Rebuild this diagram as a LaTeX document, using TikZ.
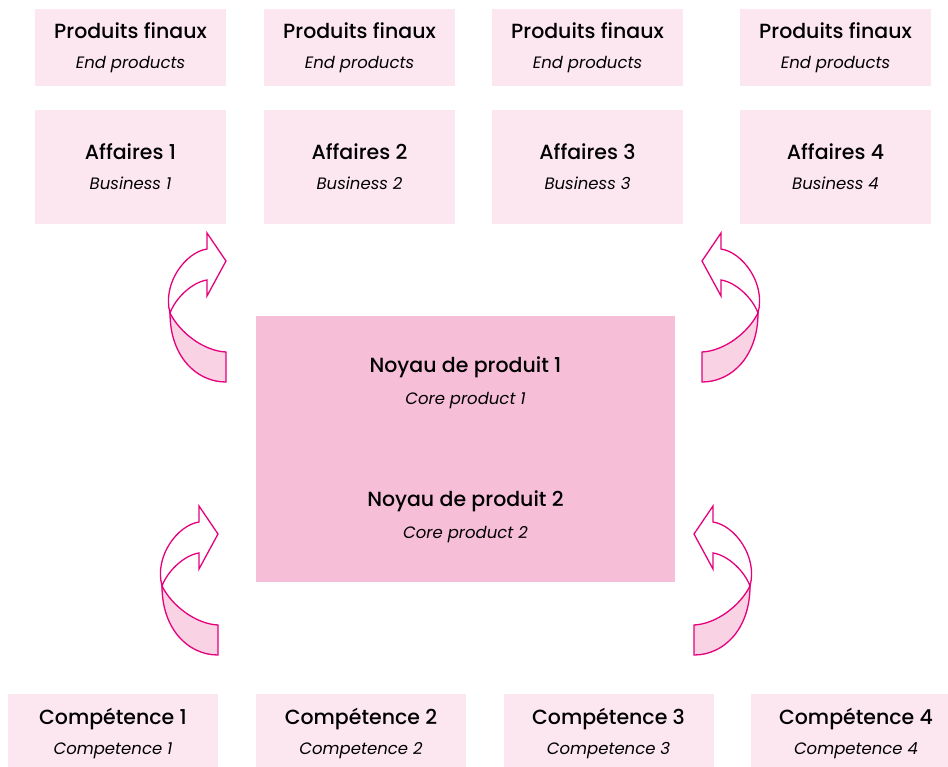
\documentclass[tikz,border=0pt]{standalone}
\usepackage{fontspec}
\setmainfont{Poppins}[BoldFont={Poppins Medium}]
\definecolor{boxpink}{HTML}{FCE6F0}
\definecolor{corepink}{HTML}{F7BED8}
\definecolor{arrline}{HTML}{E5007D}
\definecolor{arrfill}{HTML}{F9D2E4}
\newcommand{\frl}[1]{{\fontsize{20.5}{30}\selectfont\bfseries #1}}
\newcommand{\enl}[1]{{\fontsize{16.5}{30}\selectfont\itshape #1}}
\begin{document}
\begin{tikzpicture}[x=1pt,y=-1pt,
  box/.style={fill=boxpink, inner sep=0pt, align=center, text=black, font=\fontsize{20}{30}\selectfont},
  toprow/.style={box, minimum width=191pt, minimum height=77pt},
  bizrow/.style={box, minimum width=191pt, minimum height=114pt},
  comprow/.style={box, minimum width=210pt, minimum height=78pt},
  corebox/.style={fill=corepink, inner sep=0pt, minimum width=419pt, minimum height=266pt},
  coretext/.style={inner sep=0pt, align=center, text=black, font=\fontsize{20}{32}\selectfont},
  twist/.pic={
    \draw[arrline, line width=1.3pt, fill=white, line join=miter]
      (-19,19) -- (-19,35) -- (0,0) -- (-19,-28) -- (-19,-12)
      .. controls (-40,-9) and (-64,22) .. (-56,52)
      .. controls (-50,36) and (-33,21) .. (-19,19) -- cycle;
    \draw[arrline, line width=1.3pt, fill=arrfill]
      (-56,52) .. controls (-46,72) and (-22,90) .. (0,91) -- (0,121)
      .. controls (-30,121) and (-56,95) .. (-56,52) -- cycle;
  }]
\useasboundingbox (0,0) rectangle (948,766);
\clip (0,0) rectangle (948,766);
\fill[white] (0,0) rectangle (948,766);

% top row: end products
\foreach \i/\cx in {1/130.5, 2/359.5, 3/587.5, 4/835.5}{
  \node[toprow] (end\i) at (\cx,47.5) {\frl{Produits finaux}\\\enl{End products}};
  \node[bizrow] (biz\i) at (\cx,167) {\frl{Affaires \i}\\\enl{Business \i}};
}

% core
\node[corebox] (core) at (465.5,449) {};
\node[coretext] (core1) at (465.5,383) {\frl{Noyau de produit 1}\\\enl{Core product 1}};
\node[coretext] (core2) at (465.5,516.5) {\frl{Noyau de produit 2}\\\enl{Core product 2}};

% competences
\foreach \i/\cx in {1/113, 2/361, 3/608.5, 4/856}{
  \node[comprow] (comp\i) at (\cx,733) {\frl{Compétence \i}\\\enl{Competence \i}};
}

% twisted arrows
\coordinate (tl) at (226,261);
\coordinate (tr) at (702,261);
\coordinate (bl) at (218,534);
\coordinate (br) at (694,534);
\pic at (tl) {twist};
\pic[xscale=-1] at (tr) {twist};
\pic at (bl) {twist};
\pic[xscale=-1] at (br) {twist};
\end{tikzpicture}
\end{document}
